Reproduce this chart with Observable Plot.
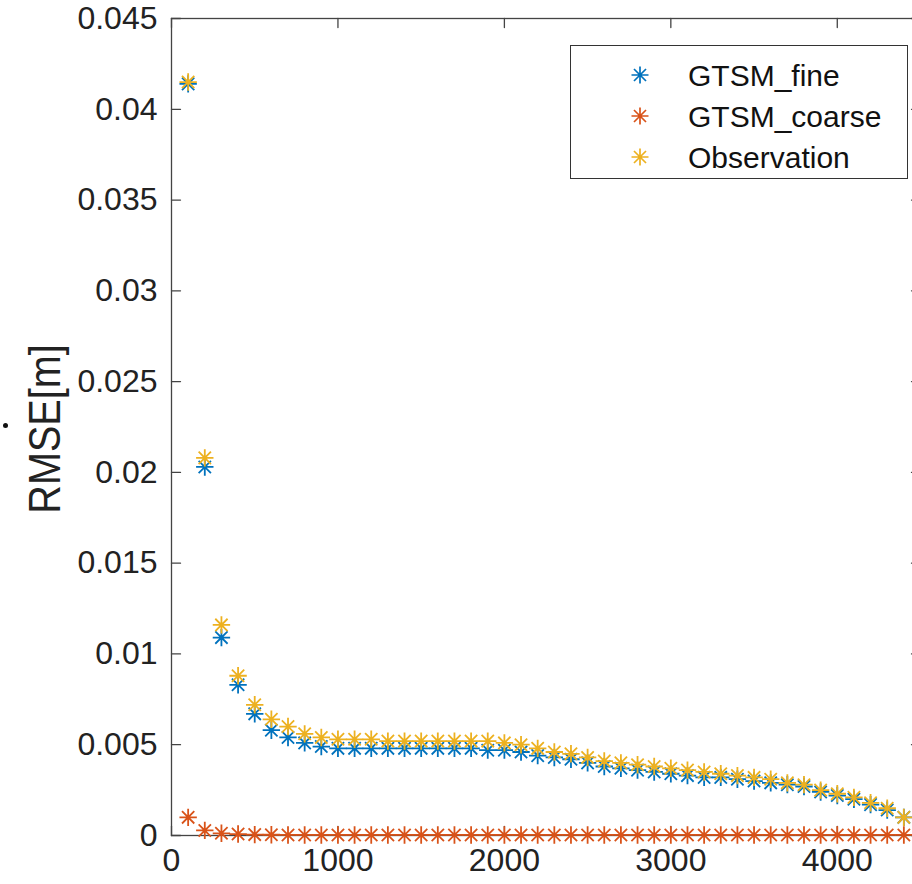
<!DOCTYPE html>
<html><head><meta charset="utf-8">
<script src="https://cdn.jsdelivr.net/npm/d3@7"></script>
<script src="https://cdn.jsdelivr.net/npm/@observablehq/plot@0.6"></script>
<style>
html,body{margin:0;padding:0;background:#fff;}
#wrap{position:relative;width:912px;height:884px;overflow:hidden;font-family:"Liberation Sans",Arial,sans-serif;}
#legend{position:absolute;left:570px;top:45px;width:338px;height:134px;box-sizing:border-box;border:1.5px solid #333;background:#fff;}
.item{position:absolute;left:0;width:100%;height:40px;}
.item svg{position:absolute;left:51px;top:1px;}
.item span{position:absolute;left:117px;top:2px;font-size:30px;line-height:36px;color:#111;white-space:nowrap;}
#dot{position:absolute;left:3px;top:423px;width:5px;height:5px;border-radius:50%;background:#111;}
</style></head>
<body><div id="wrap"></div>
<script>
const depth = [100,200,300,400,500,600,700,800,900,1000,1100,1200,1300,1400,1500,1600,1700,1800,1900,2000,2100,2200,2300,2400,2500,2600,2700,2800,2900,3000,3100,3200,3300,3400,3500,3600,3700,3800,3900,4000,4100,4200,4300,4400];
const fine = [0.0414,0.0203,0.0109,0.0083,0.0067,0.0058,0.0054,0.0051,0.0049,0.0048,0.0048,0.0048,0.0048,0.0048,0.0048,0.0048,0.0048,0.0048,0.0047,0.0047,0.0046,0.0044,0.0043,0.0042,0.0040,0.0038,0.0037,0.0036,0.0035,0.0034,0.0033,0.0032,0.0032,0.0031,0.0030,0.0029,0.0028,0.0027,0.0024,0.0022,0.0020,0.0017,0.0014,0.0010];
const coarse = [0.00100,0.00028,0.00012,0.00008,0.00005,0.00004,0.00003,0.00003,0.00003,0.00003,0.00003,0.00003,0.00003,0.00003,0.00003,0.00003,0.00003,0.00003,0.00003,0.00003,0.00003,0.00003,0.00003,0.00003,0.00003,0.00003,0.00003,0.00003,0.00003,0.00003,0.00003,0.00003,0.00003,0.00003,0.00003,0.00003,0.00003,0.00003,0.00003,0.00003,0.00003,0.00003,0.00003,0.00003];
const observation = [0.0415,0.0208,0.0116,0.0088,0.0072,0.0064,0.0060,0.0056,0.0054,0.0053,0.0053,0.0053,0.0052,0.0052,0.0052,0.0052,0.0052,0.0052,0.0052,0.0051,0.0050,0.0048,0.0046,0.0045,0.0043,0.0041,0.0040,0.0039,0.0038,0.0037,0.0036,0.0035,0.0034,0.0033,0.0032,0.0031,0.0029,0.0028,0.0025,0.0023,0.0021,0.0018,0.0015,0.0010];
const seriesNames = ["GTSM_fine","GTSM_coarse","Observation"];
const seriesColors = ["#0072BD","#D95319","#EDB120"];
const xTicks = [0,1000,2000,3000,4000];
const yTicks = [0,0.005,0.01,0.015,0.02,0.025,0.03,0.035,0.04,0.045];
const xDomain = [0,4500];
const yDomain = [0,0.045];
const yLabel = "RMSE[m]";

const seriesValues = [fine, coarse, observation];
const rows = [];
seriesValues.forEach((vals, si) => vals.forEach((v, i) => rows.push({x: depth[i], y: v, s: seriesNames[si]})));

const asterisk8 = {
  draw(ctx, size) {
    const r = Math.sqrt(size / Math.PI), d = r * Math.SQRT1_2;
    ctx.moveTo(-r, 0); ctx.lineTo(r, 0);
    ctx.moveTo(0, -r); ctx.lineTo(0, r);
    ctx.moveTo(-d, -d); ctx.lineTo(d, d);
    ctx.moveTo(-d, d); ctx.lineTo(d, -d);
  }
};
const tickShape = {draw(ctx, l) { ctx.moveTo(0, 0); ctx.lineTo(0, -l); }};
const axisColor = "#444";

const chart = Plot.plot({
  width: 912, height: 884,
  marginLeft: 171, marginRight: -8, marginTop: 18, marginBottom: 49,
  style: {fontFamily: "Liberation Sans, Arial, sans-serif", color: "#222", background: "#fff"},
  x: {domain: xDomain, label: null},
  y: {domain: yDomain, label: null},
  color: {domain: seriesNames, range: seriesColors},
  marks: [
    Plot.frame({stroke: axisColor, strokeWidth: 1.3}),
    Plot.vector(xTicks, {x: d => d, y: () => yDomain[0], length: 9, rotate: 0, anchor: "start", shape: tickShape, stroke: axisColor, strokeWidth: 1.3}),
    Plot.vector(xTicks, {x: d => d, y: () => yDomain[1], length: 9, rotate: 180, anchor: "start", shape: tickShape, stroke: axisColor, strokeWidth: 1.3}),
    Plot.vector(yTicks, {x: () => xDomain[0], y: d => d, length: 9, rotate: 90, anchor: "start", shape: tickShape, stroke: axisColor, strokeWidth: 1.3}),
    Plot.vector(yTicks, {x: () => xDomain[1], y: d => d, length: 9, rotate: -90, anchor: "start", shape: tickShape, stroke: axisColor, strokeWidth: 1.3}),
    Plot.axisX({ticks: xTicks, tickSize: 0, tickPadding: 13, fontSize: 32, tickFormat: d => String(d), label: null}),
    Plot.axisY({ticks: yTicks, tickSize: 0, tickPadding: 14, fontSize: 32, tickFormat: d => String(d), label: null}),
    Plot.text([yLabel], {text: d => d, frameAnchor: "left", dx: -126, dy: 2, rotate: -90, textAnchor: "middle", lineAnchor: "middle", fontSize: 45, fill: "#222", className: "ylab"}),
    Plot.dot(rows, {x: "x", y: "y", stroke: "s", symbol: asterisk8, r: 8.7, fill: "none", strokeWidth: 1.8})
  ]
});
// condense the y-axis title horizontally (the reference uses a narrow face)
chart.querySelectorAll(".ylab text").forEach(t => {
  const tr = t.getAttribute("transform") || "";
  t.setAttribute("transform", tr + " scale(0.88,1)");
});
const wrap = document.getElementById("wrap");
wrap.appendChild(chart);

const legend = document.createElement("div");
legend.id = "legend";
seriesNames.forEach((name, i) => {
  const item = document.createElement("div");
  item.className = "item";
  item.style.top = (10 + i * 41) + "px";
  const r = 8.5, d = r * Math.SQRT1_2, c = 18;
  item.innerHTML = `<svg width="36" height="36"><path d="M${c-r},${c}H${c+r}M${c},${c-r}V${c+r}M${c-d},${c-d}L${c+d},${c+d}M${c-d},${c+d}L${c+d},${c-d}" stroke="${seriesColors[i]}" stroke-width="1.7" fill="none"/></svg><span>${name}</span>`;
  legend.appendChild(item);
});
wrap.appendChild(legend);
const dot = document.createElement("div");
dot.id = "dot";
wrap.appendChild(dot);
</script>
</body></html>
